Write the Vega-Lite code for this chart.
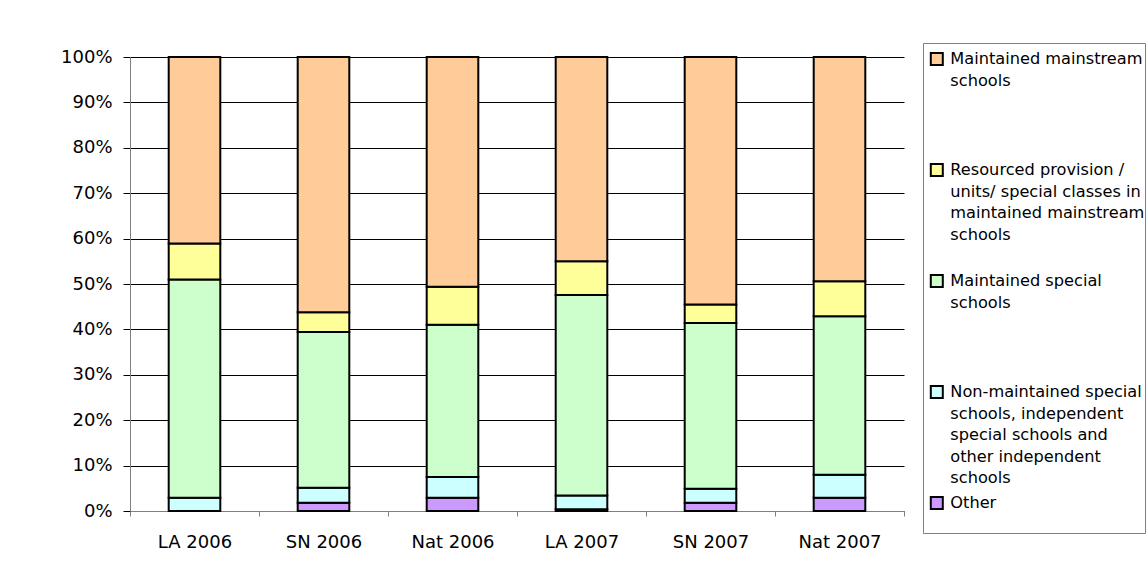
{
  "$schema": "https://vega.github.io/schema/vega-lite/v6.json",
  "autosize": "none",
  "width": 774,
  "height": 454,
  "padding": {"left": 130, "top": 57, "right": 242, "bottom": 70},
  "background": "white",
  "data": {
    "values": [
      {"group": "LA 2006", "type": "Other", "k": 1, "pct": 0.0},
      {"group": "LA 2006", "type": "Non-maintained special schools, independent special schools and other independent schools", "k": 2, "pct": 2.9},
      {"group": "LA 2006", "type": "Maintained special schools", "k": 3, "pct": 48.1},
      {"group": "LA 2006", "type": "Resourced provision / units/ special classes in maintained mainstream schools", "k": 4, "pct": 7.9},
      {"group": "LA 2006", "type": "Maintained mainstream schools", "k": 5, "pct": 41.1},
      {"group": "SN 2006", "type": "Other", "k": 1, "pct": 1.8},
      {"group": "SN 2006", "type": "Non-maintained special schools, independent special schools and other independent schools", "k": 2, "pct": 3.3},
      {"group": "SN 2006", "type": "Maintained special schools", "k": 3, "pct": 34.3},
      {"group": "SN 2006", "type": "Resourced provision / units/ special classes in maintained mainstream schools", "k": 4, "pct": 4.4},
      {"group": "SN 2006", "type": "Maintained mainstream schools", "k": 5, "pct": 56.2},
      {"group": "Nat 2006", "type": "Other", "k": 1, "pct": 2.9},
      {"group": "Nat 2006", "type": "Non-maintained special schools, independent special schools and other independent schools", "k": 2, "pct": 4.6},
      {"group": "Nat 2006", "type": "Maintained special schools", "k": 3, "pct": 33.5},
      {"group": "Nat 2006", "type": "Resourced provision / units/ special classes in maintained mainstream schools", "k": 4, "pct": 8.4},
      {"group": "Nat 2006", "type": "Maintained mainstream schools", "k": 5, "pct": 50.6},
      {"group": "LA 2007", "type": "Other", "k": 1, "pct": 0.4},
      {"group": "LA 2007", "type": "Non-maintained special schools, independent special schools and other independent schools", "k": 2, "pct": 3.0},
      {"group": "LA 2007", "type": "Maintained special schools", "k": 3, "pct": 44.2},
      {"group": "LA 2007", "type": "Resourced provision / units/ special classes in maintained mainstream schools", "k": 4, "pct": 7.4},
      {"group": "LA 2007", "type": "Maintained mainstream schools", "k": 5, "pct": 45.0},
      {"group": "SN 2007", "type": "Other", "k": 1, "pct": 1.8},
      {"group": "SN 2007", "type": "Non-maintained special schools, independent special schools and other independent schools", "k": 2, "pct": 3.1},
      {"group": "SN 2007", "type": "Maintained special schools", "k": 3, "pct": 36.5},
      {"group": "SN 2007", "type": "Resourced provision / units/ special classes in maintained mainstream schools", "k": 4, "pct": 4.1},
      {"group": "SN 2007", "type": "Maintained mainstream schools", "k": 5, "pct": 54.5},
      {"group": "Nat 2007", "type": "Other", "k": 1, "pct": 2.9},
      {"group": "Nat 2007", "type": "Non-maintained special schools, independent special schools and other independent schools", "k": 2, "pct": 5.1},
      {"group": "Nat 2007", "type": "Maintained special schools", "k": 3, "pct": 34.9},
      {"group": "Nat 2007", "type": "Resourced provision / units/ special classes in maintained mainstream schools", "k": 4, "pct": 7.7},
      {"group": "Nat 2007", "type": "Maintained mainstream schools", "k": 5, "pct": 49.4}
    ]
  },
  "mark": {"type": "bar", "stroke": "black", "strokeWidth": 2, "width": {"band": 0.4}, "opacity": 1},
  "encoding": {
    "x": {
      "field": "group",
      "type": "nominal",
      "sort": ["LA 2006", "SN 2006", "Nat 2006", "LA 2007", "SN 2007", "Nat 2007"],
      "scale": {"paddingInner": 0, "paddingOuter": 0},
      "axis": {
        "title": null,
        "labelAngle": 0,
        "tickBand": "extent",
        "labelFont": "DejaVu Sans",
        "labelFontSize": 18,
        "labelColor": "black",
        "domainColor": "#808080",
        "tickColor": "#808080",
        "tickSize": 5,
        "labelPadding": 17,
        "grid": false
      }
    },
    "y": {
      "field": "pct",
      "type": "quantitative",
      "stack": "normalize",
      "scale": {"domain": [0, 1], "nice": false},
      "axis": {
        "title": null,
        "format": ".0%",
        "values": [0, 0.1, 0.2, 0.3, 0.4, 0.5, 0.6, 0.7, 0.8, 0.9, 1],
        "grid": true,
        "gridColor": "black",
        "gridWidth": 1,
        "gridOpacity": 1,
        "tickSize": 7,
        "tickColor": "black",
        "domainColor": "#808080",
        "labelPadding": 11,
        "labelFont": "DejaVu Sans",
        "labelFontSize": 18,
        "labelColor": "black"
      }
    },
    "color": {
      "field": "type",
      "type": "nominal",
      "scale": {
        "domain": [
          "Maintained mainstream schools",
          "Resourced provision / units/ special classes in maintained mainstream schools",
          "Maintained special schools",
          "Non-maintained special schools, independent special schools and other independent schools",
          "Other"
        ],
        "range": ["#FFCC99", "#FFFF99", "#CCFFCC", "#CCFFFF", "#CC99FF"]
      },
      "legend": {
        "orient": "none",
        "legendX": 793,
        "legendY": -14,
        "title": null,
        "padding": 0,
        "strokeColor": "#808080",
        "fillColor": "white",
        "labelFont": "DejaVu Sans",
        "labelFontSize": 16.2,
        "labelColor": "black",
        "labelLimit": 300,
        "labelBaseline": "top",
        "labelOffset": 5.4,
        "symbolType": "M-6,2H6V14H-6Z",
        "symbolSize": 4,
        "symbolOffset": 5.7,
        "symbolStrokeColor": "black",
        "symbolStrokeWidth": 2,
        "symbolOpacity": 1,
        "rowPadding": 0,
        "labelExpr": "datum.label == 'Maintained mainstream schools' ? ['Maintained mainstream','schools','','',''] : datum.label == 'Resourced provision / units/ special classes in maintained mainstream schools' ? ['Resourced provision /','units/ special classes in','maintained mainstream','schools',''] : datum.label == 'Maintained special schools' ? ['Maintained special','schools','','',''] : datum.label == 'Other' ? ['Other',''] : ['Non-maintained special','schools, independent','special schools and','other independent','schools']"
      }
    },
    "order": {"field": "k", "type": "quantitative", "sort": "ascending"}
  },
  "config": {
    "view": {"stroke": null},
    "style": {"guide-label": {"lineHeight": 21.5}}
  }
}
